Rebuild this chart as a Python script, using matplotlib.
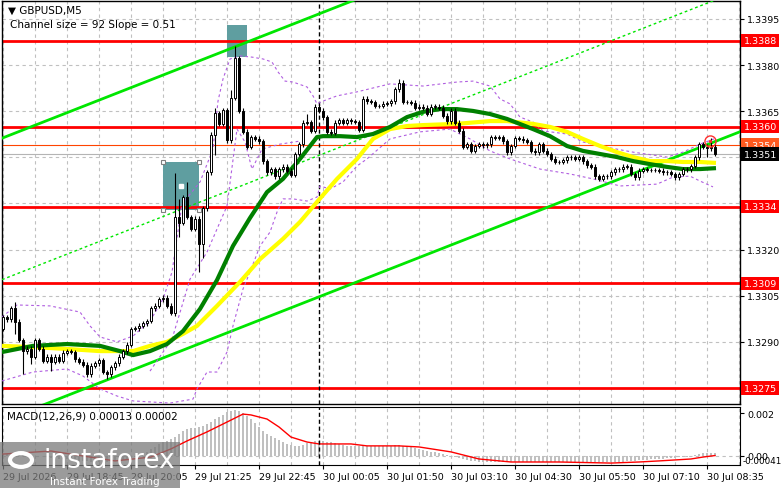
import numpy as np
import matplotlib
matplotlib.use("Agg")
import matplotlib.pyplot as plt
from matplotlib.patches import Rectangle, Circle

plt.rcParams['font.family'] = ['DejaVu Sans']

# prices are kept as pips above 1.3300
BASE = 1.3300

first_open = -5.8
close_pips = [
    -1.9, -2.6, 1.0, -3.5, -9.4, -13.0, -12.3, -14.9, -9.4, -12.3,
    -16.2, -14.9, -16.5, -14.9, -16.2, -13.6, -13.0, -13.3, -15.6, -16.5,
    -17.5, -20.5, -17.8, -16.9, -15.9, -19.8, -20.5, -18.2, -16.9, -14.9,
    -13.0, -11.0, -5.8, -5.5, -4.8, -3.9, -3.2, 1.0, 1.7, 3.9,
    4.3, 1.7, -0.6, 30.6, 28.7, 37.1, 30.6, 26.7, 30.0, 21.8,
    33.5, 45.2, 57.3, 64.4, 60.9, 65.4, 55.6, 69.3, 82.3, 65.1,
    58.3, 53.4, 56.6, 56.0, 55.3, 48.8, 45.2, 46.2, 43.9, 46.2,
    46.9, 45.6, 44.3, 51.1, 54.3, 61.2, 61.5, 58.6, 66.4, 65.1,
    63.1, 58.3, 58.0, 61.2, 62.1, 61.2, 62.1, 61.8, 61.5, 58.9,
    69.0, 68.3, 68.0, 66.7, 66.7, 67.4, 67.6, 68.3, 72.2, 74.2,
    68.0, 68.0, 67.7, 66.1, 66.4, 66.1, 64.1, 66.4, 66.4, 66.1,
    63.5, 61.8, 65.1, 61.2, 58.6, 53.4, 54.3, 52.1, 53.7, 54.3,
    54.0, 54.3, 56.6, 56.3, 56.6, 55.3, 51.7, 53.7, 56.3, 56.0,
    55.6, 55.0, 52.1, 51.7, 54.3, 52.1, 51.1, 49.5, 48.5, 48.5,
    49.1, 50.1, 50.1, 49.5, 50.1, 48.8, 47.5, 46.9, 43.9, 43.0,
    43.9, 43.9, 45.2, 46.2, 46.2, 46.9, 46.9, 44.6, 43.6, 45.6,
    46.2, 45.9, 45.9, 45.9, 45.6, 45.2, 45.2, 44.6, 43.6, 44.6,
    46.2, 46.2, 47.2, 50.1, 54.3, 53.4, 53.0, 53.4, 51.1,
]
# long wicks (bar -> pips); others get a short tail
high_pips = {3: 3.0, 43: 44.9, 44: 36.5, 46: 42.0, 53: 66.0, 57: 72.0,
             58: 86.2, 76: 64.1, 99: 75.5, 177: 56.3}
low_pips = {3: -7.4, 5: -20.5, 7: -17.2, 12: -19.5, 26: -22.1, 43: -1.5,
            44: 24.1, 49: 12.7, 50: 17.3, 53: 50.8, 176: 50.1}
tail = 0.8

green_bar = [-0.25, 7.5, 16, 24.25, 29.25, 32.5, 36.75, 41, 45, 49.25, 53.5, 57.5,
             61.75, 66, 70, 74.25, 78.5, 80, 84.25, 88.5, 92.5, 96.75, 101, 105,
             109.25, 113.5, 117.5, 121.75, 126, 132.5, 136.75, 141, 145, 149.25,
             153.5, 157.5, 161.75, 166, 170, 174.25, 178.25]
green_pips = [-13.3, -11.3, -10.7, -11.3, -13.0, -14.3, -13.0, -10.7, -6.5, 0.7, 10.1, 21.2,
              30.3, 38.7, 43.0, 49.5, 56.6, 56.9, 56.9, 56.6, 57.6, 59.9, 63.1, 64.8,
              65.7, 65.7, 65.1, 64.1, 62.5, 59.2, 56.9, 53.7, 52.1, 51.1,
              50.1, 48.8, 47.8, 46.9, 46.2, 46.2, 46.5]

yellow_bar = [-0.25, 7.5, 16, 24.25, 32.5, 36.75, 41, 45, 48.5, 53.5, 59.25, 64.25,
              70, 74.25, 78.5, 83.5, 88.5, 92.5, 96.75, 101, 105, 113.5, 121.75, 126,
              132.5, 136.75, 141, 145, 149.25, 153.5, 157.5, 161.75, 166, 170, 174.25, 178.25]
yellow_pips = [-11.3, -11.7, -12.3, -13.0, -13.0, -11.3, -10.0, -7.4, -4.8, 1.7, 9.5, 16.9,
               23.5, 29.0, 35.5, 43.0, 49.5, 56.0, 59.2, 60.2, 60.5, 60.9, 61.8, 61.8,
               60.9, 59.9, 58.3, 56.0, 53.7, 51.7, 50.1, 48.8, 48.8, 48.5, 48.5, 48.2]

band_up_bar = [-0.25, 3.5, 11.75, 19.25, 21.75, 24.25, 28.5, 32.5, 36.75, 40, 42.25, 44.75,
               49.25, 52.5, 53.75, 55, 56.75, 59.25, 62.25, 65, 67.25, 68.75, 70.5, 72.5,
               76, 77.5, 78.5, 80, 83.5, 88.5, 96.75, 105, 113.5, 117.5, 121.75, 124.25,
               126.75, 129.25, 132.5, 135, 141, 145, 149.25, 157.5, 166, 170, 174.25, 177.75]
band_up_pips = [-1.9, 2.0, 1.7, -0.3, -4.8, -8.4, -10.0, -8.1, -3.2, 3.9, 12.7, 34.8,
                42.0, 52.7, 68.3, 75.5, 82.0, 83.0, 82.6, 82.0, 81.0, 77.8, 74.8, 74.5,
                72.9, 70.0, 67.4, 68.3, 70.0, 71.3, 73.9, 73.2, 74.5, 74.8, 73.2, 69.0,
                67.4, 63.1, 61.5, 58.6, 57.6, 55.0, 53.7, 51.7, 50.1, 51.7, 54.3, 56.0]

band_dn_bar = [-0.25, 7.5, 16, 20, 24.25, 28.5, 32.5, 41.75, 47.5, 48.5, 51, 53.5,
               56, 57.5, 60, 61.75, 64.25, 66.75, 68.5, 70, 72.5, 76, 78.5, 79.25,
               81.75, 85, 88.5, 91, 96.75, 104.25, 111.75, 116.75, 121.75, 126.75,
               134.25, 141.75, 147.5, 154.25, 163.5, 167.5, 171.75, 174.25, 177.5]
band_dn_pips = [-22.7, -19.8, -18.8, -21.1, -25.3, -27.6, -29.2, -29.9, -28.6, -25.3, -19.8, -19.8,
                -13.3, -4.8, 7.2, 12.7, 21.2, 25.7, 32.2, 36.5, 36.5, 35.8, 37.1, 40.7,
                39.7, 42.0, 47.2, 49.5, 56.0, 58.3, 59.2, 56.0, 52.1, 49.5,
                46.2, 44.6, 43.0, 40.7, 41.3, 43.6, 43.9, 42.3, 40.4]

band_mid_bar = [36.75, 42.25, 46.75, 51, 56, 58.5, 60.5, 62.25, 64.75, 69.25, 74.25]
band_mid_pips = [-19.5, -9.1, 10.4, 19.2, 34.2, 59.2, 55.0, 46.2, 52.7, 54.3, 55.3]

# price channel: lower line anchor, slope and size from the chart caption
chan_bar0 = 128.5
chan_low0 = 29.9
chan_slope = 0.51
chan_size = 92

levels = [1.3388, 1.3360, 1.3334, 1.3309, 1.3275]
ask_line = 1.3354
bid_line = 1.3351
grid_prices = [1.3275, 1.3290, 1.3305, 1.3320, 1.3335, 1.3350, 1.3365, 1.3380, 1.3395]
hidden_ticks = [1.3275, 1.3335, 1.3350]   # covered by the level tags

boxes = [(40, 49, 32.9, 48.5), (56, 61, 82.6, 93.0)]
separator_bar = 79
alert_bar, alert_pips = 176.75, 55.3

# MACD (units of 1e-5)
macd_hist = [
    10, 10, 12, 10, 8, 5, 3, 2, 2, 0, -2,
    -5, -8, -10, -12, -14, -16, -18, -20, -22, -23, -25, -26, -27, -27, -28, -27, -26, -24, -22, -18,
    -12, -8, -4, 0, 8, 18, 33, 42, 56, 64, 72, 79,
    88, 102, 116, 126, 128, 130, 135, 140, 150, 160, 172, 181, 191, 205, 209, 214,
    209, 200, 186, 172, 153, 135, 116, 102, 93, 84, 74, 65, 56, 51, 47, 47, 51, 60, 65, 70,
    70, 70, 65, 65, 60, 56, 50, 48, 47, 47, 46, 47, 48, 48, 47, 46, 46, 47, 48, 50, 50, 48, 47,
    42, 37, 33, 28, 23, 19, 19, 14, 9, 5, 0, -5, -9, -14, -19, -23, -23, -28,
    -27, -28, -29, -28, -27, -28, -29, -30, -29, -28, -28, -27, -28, -29, -28, -27, -27,
    -28, -29, -30, -29, -28, -28, -29, -30, -30, -29, -28, -28, -29, -30, -29, -28, -28,
    -28, -26, -23, -23, -23, -21, -19, -17, -14, -14, -14, -12, -9, -9, -9, -7, -5, -3,
    0, 4, 9, 12, 14, 13, 13,
]
sig_bar = [0, 12, 28, 37, 42, 46, 51, 56, 60, 62, 66, 69, 72, 76, 79, 87, 91, 99, 104,
           112, 119, 127, 139, 152, 159, 164, 172, 175, 178]
sig_val = [9, 23, -23, -5, 33, 70, 112, 158, 195, 191, 172, 135, 88, 65, 56, 56, 47, 47, 42,
           19, -14, -28, -28, -33, -28, -23, -14, -5, 2]

time_labels = ["29 Jul 2026", "29 Jul 18:45", "29 Jul 20:05", "29 Jul 21:25", "29 Jul 22:45",
               "30 Jul 00:05", "30 Jul 01:50", "30 Jul 03:10", "30 Jul 04:30", "30 Jul 05:50",
               "30 Jul 07:10", "30 Jul 08:35"]

FS = 6.8


def px(p):
    return BASE + np.asarray(p, dtype=float) / 1e4


W, H = 781, 489
fig = plt.figure(figsize=(W / 100, H / 100), dpi=100)
ax = fig.add_axes([2 / W, 1 - 405 / H, 738 / W, 403 / H])
axm = fig.add_axes([2 / W, 1 - 466 / H, 738 / W, 58 / H])

n = len(close_pips)
idx = np.arange(n)
closes = np.array(close_pips)
opens = np.concatenate([[first_open], closes[:-1]])
highs = np.maximum(opens, closes) + tail
lows = np.minimum(opens, closes) - tail
for k, v in high_pips.items():
    highs[k] = v
for k, v in low_pips.items():
    lows[k] = v

grid_kw = dict(color='#c0c0c0', lw=0.8, ls=(0, (3, 3)))

# ---- main panel
ax.set_xlim(-0.25, 184.25)
ax.set_ylim(px(-30.2), px(100.85))
ax.set_xticks(np.arange(0, 185, 8))
ax.set_yticks(grid_prices)
ax.grid(True, **grid_kw)
ax.set_axisbelow(True)
ax.tick_params(axis='x', length=0, labelbottom=False)
ax.yaxis.tick_right()
ax.tick_params(axis='y', direction='out', length=3, labelsize=FS, pad=2)
ax.set_yticklabels(["" if p in hidden_ticks else f"{p:.4f}" for p in grid_prices])
for s in ax.spines.values():
    s.set_linewidth(1)

for b0, b1, p0, p1 in boxes:
    ax.add_patch(Rectangle((b0, px(p0)), b1 - b0, px(p1) - px(p0),
                           facecolor='#5f9ea0', edgecolor='none', zorder=1))
b0, b1, p0, p1 = boxes[0]
for bx, py in [(b0, p0), (b0, p1), (b1, p0), (b1, p1)]:
    ax.plot(bx, px(py), 's', ms=3.5, mfc='white', mec='#808080', mew=0.8, zorder=6)
ax.plot((b0 + b1) / 2, px((p0 + p1) / 2), 's', ms=2.5, mfc='white', mec='white', zorder=6)

for lv in levels:
    ax.axhline(lv, color='#ff0000', lw=2, zorder=2)
ax.axhline(ask_line, color='#ff4400', lw=0.8, zorder=2)
ax.axhline(bid_line, color='#b4b4b4', lw=0.8, zorder=2)

# channel lines
xx = np.array([-0.25, 184.25])
lower = chan_low0 + chan_slope * (xx - chan_bar0)
ax.plot(xx, px(lower), color='#00e600', lw=2, zorder=3)
ax.plot(xx, px(lower + chan_size), color='#00e600', lw=2, zorder=3)
ax.plot(xx, px(lower + chan_size / 2), color='#00e600', lw=1, ls=(0, (2, 2)), zorder=3)

band_kw = dict(color='#b05ee0', lw=0.8, ls=(0, (2.5, 2.5)), zorder=3)
ax.plot(band_up_bar, px(band_up_pips), **band_kw)
ax.plot(band_dn_bar, px(band_dn_pips), **band_kw)
ax.plot(band_mid_bar, px(band_mid_pips), **band_kw)

ax.plot(yellow_bar, px(yellow_pips), color='#ffff00', lw=3, zorder=4, solid_capstyle='butt')
ax.plot(green_bar, px(green_pips), color='#008000', lw=3, zorder=4.1, solid_capstyle='butt')

# candles
ax.vlines(idx, px(lows), px(highs), color='black', lw=0.8, zorder=5)
body_lo = np.minimum(opens, closes)
body_h = np.maximum(np.abs(closes - opens), 0.15)
cols = ['white' if c >= o else 'black' for o, c in zip(opens, closes)]
ax.bar(idx, body_h / 1e4, bottom=px(body_lo), width=0.7, color=cols,
       edgecolor='black', lw=0.7, zorder=5.5)

ax.plot(alert_bar, px(alert_pips), 'o', ms=8, mfc='none', mec='#ff3030', mew=1, zorder=7)
ax.plot(alert_bar, px(alert_pips), 'o', ms=2.5, mfc='#ff3030', mec='none', zorder=7)

ax.axvline(separator_bar, color='black', lw=1, ls=(0, (3, 2)), zorder=2)


# price tags on the right scale
def tag(a, y, text, bg, fg='white'):
    a.annotate(text, xy=(1, y), xycoords=('axes fraction', 'data'), xytext=(2.5, 0),
               textcoords='offset points', va='center', ha='left', fontsize=FS,
               color=fg, annotation_clip=False, zorder=10,
               bbox=dict(boxstyle='square,pad=0.25', fc=bg, ec='none'))


for lv in levels:
    tag(ax, lv, f"{lv:.4f}", '#ff0000')
tag(ax, ask_line, f"{ask_line:.4f}", '#ff5a1f')
tag(ax, bid_line, f"{bid_line:.4f}", 'black')

ax.text(0.008, 0.978, "\u25bc GBPUSD,M5", transform=ax.transAxes, fontsize=7.5,
        va='center', ha='left')
ax.text(0.011, 0.943, "Channel size = 92 Slope = 0.51", transform=ax.transAxes,
        fontsize=7.5, va='center', ha='left')

# ---- MACD panel
axm.set_xlim(-0.25, 184.25)
axm.set_ylim(-0.00042, 0.00228)
axm.bar(idx, np.array(macd_hist) / 1e5, width=0.65, color='#c0c0c0', zorder=2)
axm.plot(sig_bar, np.array(sig_val) / 1e5, color='#ff0000', lw=1, zorder=3)
axm.axhline(0, **grid_kw)
axm.set_xticks(np.arange(0, 185, 8), minor=True)
axm.set_xticks(np.arange(0, 185, 16))
axm.set_xticklabels(time_labels, fontsize=FS)
for lbl in axm.get_xticklabels():
    lbl.set_ha('left')
axm.grid(True, which='both', axis='x', **grid_kw)
axm.tick_params(axis='x', which='major', length=3, pad=2)
axm.tick_params(axis='x', which='minor', length=0)
axm.yaxis.tick_right()
axm.set_yticks([0, 0.002])
axm.set_yticklabels(["0.00", "0.002"])
axm.tick_params(axis='y', direction='out', length=3, labelsize=FS, pad=2)
axm.text(1.004, 0.0, "-0.00041", transform=axm.transAxes, fontsize=6.3, va='bottom')
axm.axvline(separator_bar, color='black', lw=1, ls=(0, (3, 2)), zorder=4)
axm.text(0.007, 0.86, "MACD(12,26,9) 0.00013 0.00002", transform=axm.transAxes,
         fontsize=7.5, va='center')

# ---- watermark
fig.patches.append(Rectangle((0, 0), 180 / W, 46 / H, transform=fig.transFigure,
                             facecolor='#7a7a7a', alpha=0.75, edgecolor='none', zorder=20))
fig.patches.append(Circle((21 / W, 1 - 461 / H), 11 / W, transform=fig.transFigure,
                          facecolor='none', edgecolor='white', lw=3, zorder=21))
fig.text(43 / W, 1 - 461 / H, "instaforex", color='white', fontsize=19, va='center',
         ha='left', zorder=22)
fig.text(50 / W, 1 - 482 / H, "Instant Forex Trading", color='white', fontsize=7.5,
         va='center', ha='left', zorder=22)

fig.savefig("out.png", dpi=100, facecolor='white')
